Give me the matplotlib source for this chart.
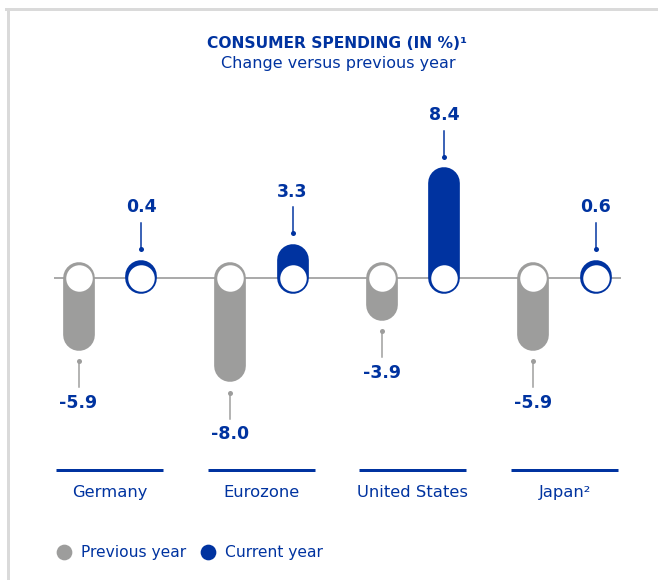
import matplotlib.pyplot as plt
from matplotlib.lines import Line2D

# Data (change versus previous year, in %)
countries = ["Germany", "Eurozone", "United States", "Japan\u00b2"]
previous_year = [-5.9, -8.0, -3.9, -5.9]
current_year = [0.4, 3.3, 8.4, 0.6]
series_names = ["Previous year", "Current year"]

TITLE = "CONSUMER SPENDING (IN %)\u00b9"
SUBTITLE = "Change versus previous year"

BLUE = "#0033A0"
GRAY = "#9D9D9C"
LINE_GRAY = "#ABABAB"
FRAME = "#DADADA"

W, H = 658, 580
PX_X = 151.6   # pixels per category
PX_Y = 15.0    # pixels per percentage point
X0, Y0 = 109.75, 277.7   # pixel position of first group / zero line (from top)
R_PX = 15.85   # capsule radius
R = R_PX / PX_Y
PAIR = 31.25 / PX_X


def px(p):
    """pixels -> points"""
    return p * 72 / 100


fig = plt.figure(figsize=(W / 100, H / 100), dpi=100)
ax = fig.add_axes([0, 0, 1, 1])
ax.set_xlim(-X0 / PX_X, (W - X0) / PX_X)
ax.set_ylim(-(H - Y0) / PX_Y, Y0 / PX_Y)
ax.axis("off")

# zero line
ax.plot([-0.368, len(countries) - 1 + 0.370], [0, 0], color=LINE_GRAY,
        lw=px(2), zorder=1, solid_capstyle="butt")


def draw_value(x, v, color):
    s = 1 if v >= 0 else -1
    length = max(abs(v), 2 * R + 2 / PX_Y)
    tip_center = s * (length - 2 * R)
    ax.plot([x, x], [0, tip_center], color=color, lw=px(2 * R_PX),
            solid_capstyle="round", zorder=2)
    ax.scatter([x], [0], s=px(26.5) ** 2, color="white", zorder=3, linewidths=0)
    edge = s * (length - R)
    # connector dot + line
    ax.plot([x], [edge + s * 11 / PX_Y], "o", color=color, ms=px(5), mec="none", zorder=3)
    ax.plot([x, x], [edge + s * 11 / PX_Y, edge + s * 37 / PX_Y], color=color,
            lw=px(1.5), zorder=3)
    ax.text(x, edge + s * 52.5 / PX_Y, f"{v:.1f}", ha="center", va="center",
            color=BLUE, fontsize=12.5, fontweight="bold")


for i, name in enumerate(countries):
    draw_value(i - PAIR, previous_year[i], GRAY)
    draw_value(i + PAIR, current_year[i], BLUE)
    ax.plot([i - 0.353, i + 0.353], [-(470 - Y0) / PX_Y] * 2, color=BLUE,
            lw=px(3), solid_capstyle="butt")
    ax.text(i, -(492.5 - Y0) / PX_Y, name, ha="center", va="center",
            color=BLUE, fontsize=11.8)

# titles
fig.text(337 / W, 1 - 48.3 / H, TITLE, ha="center", va="baseline",
         color=BLUE, fontsize=11.2, fontweight="bold")
fig.text(338 / W, 1 - 68.3 / H, SUBTITLE, ha="center", va="baseline",
         color=BLUE, fontsize=11.5)

# legend
for name, color, dx, tx in zip(series_names, [GRAY, BLUE], [64.3, 208], [80.7, 225]):
    fig.add_artist(Line2D([dx / W], [1 - 551.7 / H], marker="o", ms=px(15.7),
                          color=color, mec="none", transform=fig.transFigure))
    fig.text(tx / W, 1 - 557.3 / H, name, ha="left", va="baseline",
             color=BLUE, fontsize=11.2)

# frame (top and left)
fig.add_artist(Line2D([6 / W, 1], [1 - 9 / H, 1 - 9 / H], color=FRAME,
                      lw=px(3), transform=fig.transFigure))
fig.add_artist(Line2D([8 / W, 8 / W], [0, 1 - 9 / H], color=FRAME,
                      lw=px(3), transform=fig.transFigure))

fig.savefig("out.png", dpi=100)
